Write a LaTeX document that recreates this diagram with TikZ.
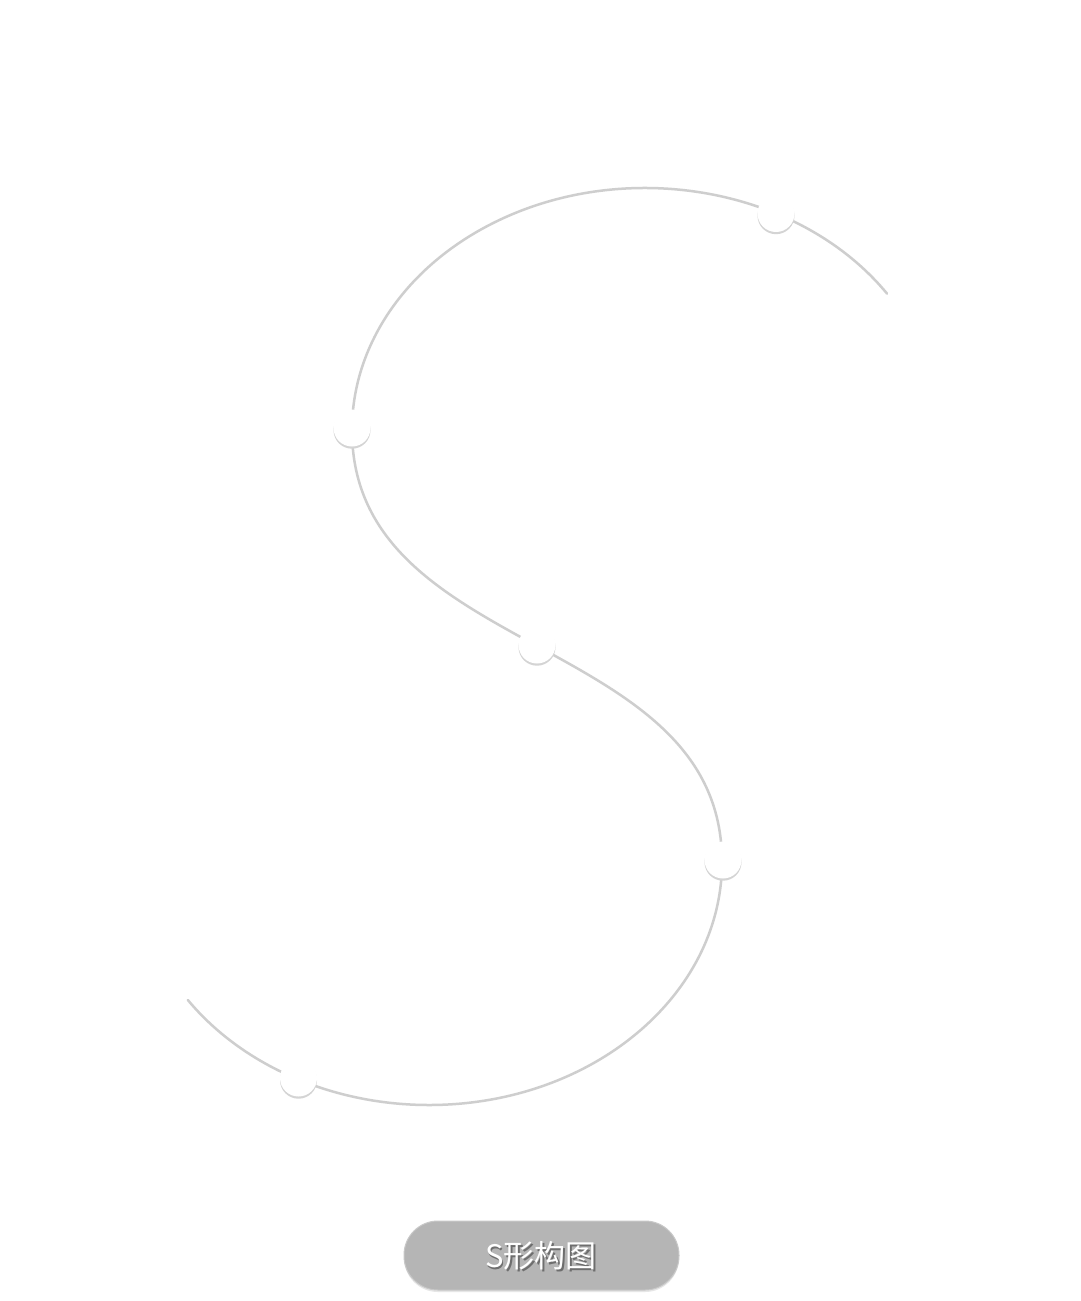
\documentclass[tikz,border=0pt]{standalone}
\usepackage{fontspec}
\usetikzlibrary{calc}
\newfontfamily\cjk{Noto Sans CJK SC}
\definecolor{linegray}{RGB}{206,206,206}
\definecolor{shadowgray}{RGB}{212,212,212}
\definecolor{btnfill}{RGB}{181,181,181}
\definecolor{btnedge}{RGB}{200,200,200}
\definecolor{btnshadow}{RGB}{230,230,230}
\definecolor{txtshadow}{RGB}{110,110,110}
\begin{document}
\begin{tikzpicture}[x=1pt,y=1pt,
  sline/.style={draw=linegray, line width=2.5pt, line cap=round},
  dotshadow/.style={circle, inner sep=0pt, minimum size=37pt, fill=shadowgray},
  dotnode/.style={circle, inner sep=0pt, minimum size=37pt, fill=white},
  btn/.style={rounded corners=34pt, minimum width=275pt, minimum height=69pt, inner sep=0pt},
  btntext/.style={font=\cjk\fontsize{31}{36}\selectfont, inner sep=0pt}
]
\useasboundingbox[fill=white] (0,0) rectangle (1080,-1301);

% S curve
\draw[sline] (645,-430) ++(34.3:293pt and 242pt) coordinate (s0)
  arc[start angle=34.3, end angle=180, x radius=293pt, y radius=242pt]
  .. controls (352,-660) and (722,-632) .. (722,-862)
  arc[start angle=0, end angle=-145.4, x radius=293pt, y radius=243pt];

% dot shadows
\foreach \px/\py in {776/-213.5, 352/-428, 537/-645, 723/-860, 298.5/-1078}{
  \node[dotshadow] at (\px,\py-2.2) {};
}
\node[dotnode] (d1) at (776,-213.5) {};
\node[dotnode] (d2) at (352,-428) {};
\node[dotnode] (d3) at (537,-645) {};
\node[dotnode] (d4) at (723,-860) {};
\node[dotnode] (d5) at (298.5,-1078) {};

% button
\node[btn, fill=btnshadow] at (541.5,-1257.5) {};
\node[btn, fill=btnfill, draw=btnedge, line width=1pt] (button) at (541.5,-1255.5) {};
\node[btntext, text=txtshadow] at (542.5,-1257.5) {S形构图};
\node[btntext, text=white] (label) at (541,-1256) {S形构图};
\end{tikzpicture}
\end{document}
